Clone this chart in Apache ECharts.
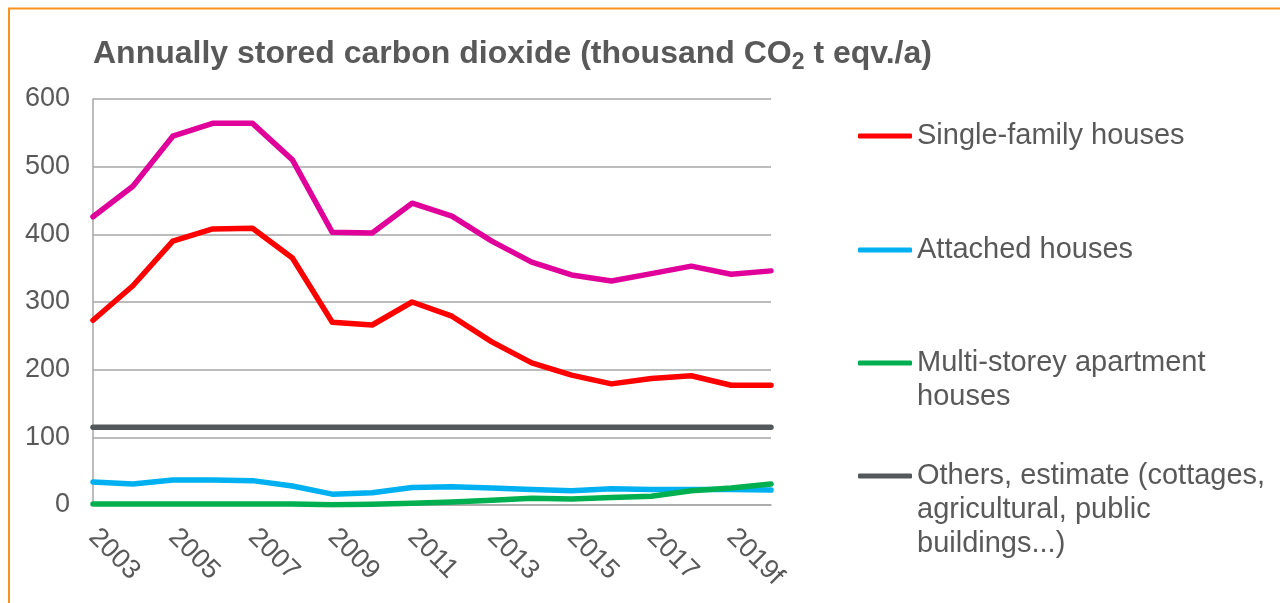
<!DOCTYPE html>
<html>
<head>
<meta charset="utf-8">
<script src="https://cdn.jsdelivr.net/npm/echarts@6/dist/echarts.min.js"></script>
<style>
  html, body { margin: 0; padding: 0; background: #fff; }
  #chart { width: 1280px; height: 603px; }
</style>
</head>
<body>
<div id="chart"></div>
<script>
// Years on the x axis (f = forecast)
const years = ['2003', '2004', '2005', '2006', '2007', '2008', '2009', '2010', '2011',
  '2012', '2013', '2014', '2015', '2016', '2017', '2018', '2019f', '2020f'];

// Annually stored CO2, thousand t eqv./a
const singleFamily = [273, 324, 390, 408, 409, 365, 270, 266, 300, 279, 241, 210, 192, 179, 187, 191, 177, 177];
const attached     = [34, 31, 37, 37, 36, 28, 16, 18, 26, 27, 25, 23, 21, 24, 23, 23, 23, 22];
const multiStorey  = [1.5, 1.5, 1.5, 1.5, 1.5, 1.5, 0.5, 1, 2.5, 4.4, 7, 10, 9, 11, 13, 21, 25, 31];
const others       = [115, 115, 115, 115, 115, 115, 115, 115, 115, 115, 115, 115, 115, 115, 115, 115, 115, 115];
const total        = [426, 471, 545, 564, 564, 510, 403, 402, 446, 427, 390, 359, 340, 331, 342, 353, 341, 346];

const yTicks = { min: 0, max: 600, interval: 100 };

const FONT = '"Liberation Sans", Arial, sans-serif';
const TEXT = '#595959';
const GRID = '#A6A6A6';

const names = {
  single: 'Single-family houses',
  attached: 'Attached houses',
  multi: 'Multi-storey apartment houses',
  others: 'Others, estimate (cottages, agricultural, public buildings...)'
};

// Legend labels: wrapped lines, with leading blank lines so the first
// line sits level with the legend line marker.
const legendText = {};
legendText[names.single] = 'Single-family houses';
legendText[names.attached] = 'Attached houses';
legendText[names.multi] = '\nMulti-storey apartment\nhouses';
legendText[names.others] = '\n\nOthers, estimate (cottages,\nagricultural, public\nbuildings...)';

function legendAt(name, top) {
  return {
    data: [name],
    orient: 'vertical',
    left: 858,
    top: top,
    padding: 0,
    icon: 'roundRect',
    itemWidth: 54,
    itemHeight: 5,
    selectedMode: false,
    formatter: n => legendText[n],
    textStyle: { fontFamily: FONT, fontSize: 29, lineHeight: 34, color: TEXT }
  };
}

function lineSeries(name, data, color) {
  return {
    name: name,
    type: 'line',
    data: data,
    symbol: 'none',
    smooth: false,
    lineStyle: { width: 5.5, color: color, cap: 'round', join: 'round' },
    itemStyle: { color: color },
    emphasis: { disabled: true }
  };
}

const chart = echarts.init(document.getElementById('chart'), null, { renderer: 'canvas' });
chart.setOption({
  animation: false,
  backgroundColor: '#ffffff',
  graphic: [{
    type: 'rect',
    shape: { x: 9, y: 8.5, width: 1400, height: 800 },
    style: { fill: 'none', stroke: '#F7931E', lineWidth: 2 },
    silent: true,
    z: -1
  }],
  title: {
    left: 93,
    top: 34,
    padding: 0,
    text: '{m|Annually stored carbon dioxide (thousand CO}{s|2}{m| t eqv./a)}',
    textStyle: {
      rich: {
        m: { fontFamily: FONT, fontSize: 32, fontWeight: 'bold', color: TEXT, lineHeight: 40 },
        s: { fontFamily: FONT, fontSize: 23, fontWeight: 'bold', color: TEXT, lineHeight: 22, verticalAlign: 'bottom' }
      }
    }
  },
  legend: [
    legendAt(names.single, 119),
    legendAt(names.attached, 233),
    legendAt(names.multi, 312),
    legendAt(names.others, 391)
  ],
  grid: { left: 93, right: 509, top: 99, bottom: 98, containLabel: false },
  xAxis: {
    type: 'category',
    data: years,
    boundaryGap: false,
    axisLine: { show: true, lineStyle: { color: GRID, width: 1.5 } },
    axisTick: { show: false },
    axisLabel: {
      interval: 1,
      rotate: -45,
      margin: 28,
      fontFamily: FONT,
      fontSize: 27,
      color: TEXT
    },
    splitLine: { show: false }
  },
  yAxis: {
    type: 'value',
    min: yTicks.min,
    max: yTicks.max,
    interval: yTicks.interval,
    axisLine: { show: true, lineStyle: { color: GRID, width: 1.5 } },
    axisTick: { show: false },
    axisLabel: { margin: 23, fontFamily: FONT, fontSize: 27, color: TEXT },
    splitLine: { show: true, lineStyle: { color: GRID, width: 1.5 } }
  },
  series: [
    lineSeries('Total', total, '#E0009A'),
    lineSeries(names.single, singleFamily, '#FF0000'),
    lineSeries(names.others, others, '#54585A'),
    lineSeries(names.attached, attached, '#00B0F0'),
    lineSeries(names.multi, multiStorey, '#00B050')
  ]
});
</script>
</body>
</html>
